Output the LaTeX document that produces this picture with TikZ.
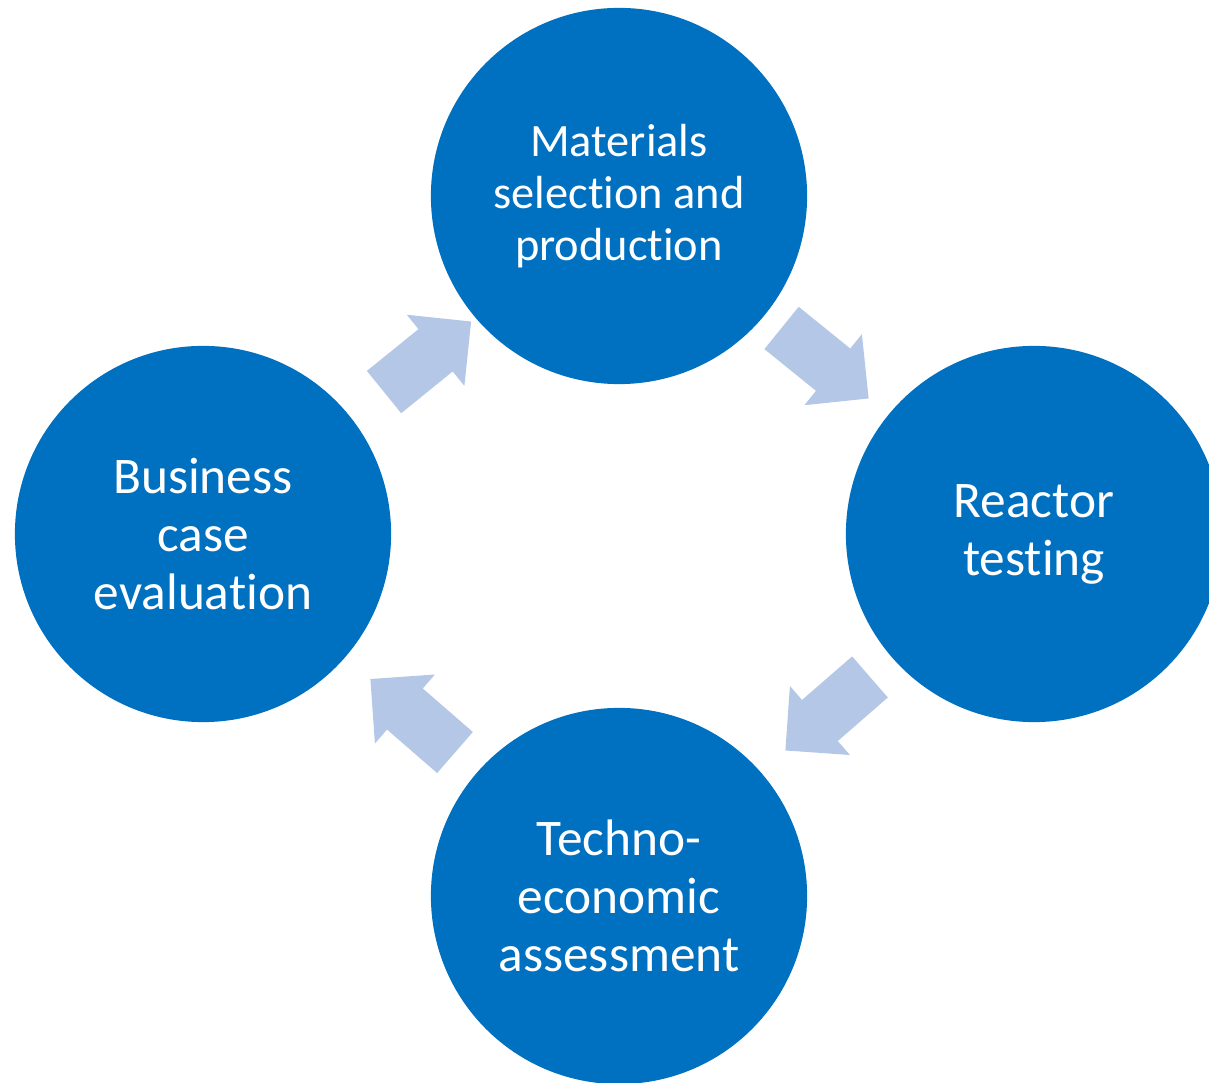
\documentclass[tikz,border=0pt]{standalone}
\usepackage{fontspec}
\setmainfont[Ligatures=NoCommon]{Carlito}
\usetikzlibrary{shapes.arrows}
\definecolor{stageblue}{HTML}{0070C0}
\definecolor{arrowblue}{HTML}{B4C7E7}
\tikzset{
  stage/.style={circle,fill=stageblue,minimum size=3.76cm,inner sep=0pt,text=white,align=center,font=\fontsize{14.6}{16.5}\selectfont},
  cyclearrow/.style={single arrow,fill=arrowblue,draw=none,minimum height=1.12cm,inner xsep=0pt,inner ysep=0.265cm,single arrow head extend=0.185cm,single arrow tip angle=90,anchor=tail}
}
\begin{document}
\begin{tikzpicture}[x=0.01cm,y=-0.01cm]
	\useasboundingbox (0,0) rectangle (1209,1083);
	\clip (0,0) rectangle (1209,1083);
	% stages of the cycle
	\node[stage,font=\fontsize{13.2}{14.8}\selectfont] (mat) at (619,196) {Materials\\selection and\\production};
	\node[stage] (rea) at (1034,534) {Reactor\\testing};
	\node[stage] (tea) at (619,896) {Techno-\\economic\\assessment};
	\node[stage] (bus) at (203,534) {Business\\case\\evaluation};
	% arrows between the stages (placed by their tails)
	\foreach \cx/\cy/\ang/\nm in {383.5/392.5/39/a1,781/327.5/-39/a2,870.5/676.5/221/a3,455.5/753/139/a4}
	\node[cyclearrow,rotate=\ang] (\nm) at (\cx,\cy) {};
\end{tikzpicture}
\end{document}
